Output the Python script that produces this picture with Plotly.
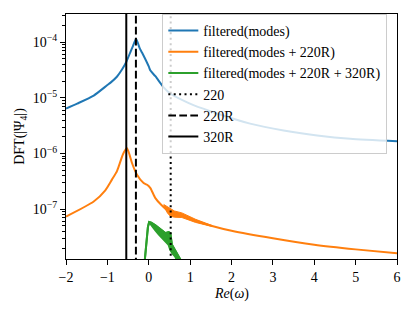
import plotly.graph_objects as go

# ---------------- data ----------------
blue_x = [-2.0, -1.73, -1.33, -1.0, -0.93, -0.77, -0.647, -0.54, -0.446, -0.38, -0.34, -0.31,
          -0.27, -0.22, -0.16, 0.0, 0.04, 0.16, 0.36, 0.52, 0.84, 1.08, 1.65, 2.45,
          3.26, 4.07, 4.87, 6.0]
blue_y = [6.45e-6, 7.9e-6, 1.1e-5, 1.7e-5, 1.86e-5, 2.4e-5, 3.24e-5, 4.47e-5, 6.6e-5, 8.6e-5, 1.02e-4, 1.15e-4,
          1.0e-4, 7.85e-5, 6.46e-5, 3.67e-5, 3.1e-5, 2.45e-5, 1.55e-5, 1.2e-5, 8.9e-6, 7.4e-6, 5.25e-6, 3.45e-6,
          2.6e-6, 2.12e-6, 1.84e-6, 1.66e-6]

orange_x = [-2.0, -1.33, -1.05, -0.89, -0.77, -0.73, -0.62, -0.53, -0.46, -0.405,
            -0.284, -0.125, -0.04, 0.04, 0.16, 0.30, 0.52, 0.80, 1.13, 1.53,
            2.0, 3.0, 4.0, 5.0, 6.0]
orange_y = [7.4e-8, 1.38e-7, 2.19e-7, 3.4e-7, 4.8e-7, 5.75e-7, 9.8e-7, 1.26e-6, 9.3e-7, 6.76e-7,
            4.17e-7, 2.95e-7, 2.75e-7, 2.40e-7, 1.58e-7, 1.20e-7, 8.7e-8, 7.8e-8, 6.2e-8, 5.0e-8,
            4.1e-8, 3.0e-8, 2.3e-8, 1.9e-8, 1.62e-8]

# noisy band of the orange curve
orange_band_x = [0.36, 0.45, 0.52, 0.62, 0.80, 1.13, 1.53]
orange_band_hi = [1.22e-7, 1.11e-7, 1.04e-7, 9.3e-8, 8.6e-8, 6.6e-8, 5.1e-8]
orange_band_lo = [1.17e-7, 8.6e-8, 7.5e-8, 7.2e-8, 7.1e-8, 5.8e-8, 4.9e-8]

# green curve: upper and lower envelopes of its noisy band
green_hi_x = [-0.10, -0.06, -0.02, 0.01, 0.06, 0.16, 0.24, 0.32, 0.40, 0.48,
              0.52, 0.56, 0.62, 0.68, 0.74, 0.80]
green_hi_y = [1.12e-8, 2.82e-8, 4.79e-8, 5.89e-8, 5.75e-8, 5.13e-8, 4.57e-8, 4.07e-8, 3.72e-8, 3.89e-8,
              3.72e-8, 2.29e-8, 1.91e-8, 1.62e-8, 1.41e-8, 1.12e-8]
green_lo_x = [0.01, 0.06, 0.16, 0.24, 0.32, 0.40, 0.48, 0.52, 0.58, 0.64, 0.70]
green_lo_y = [5.89e-8, 5.37e-8, 4.17e-8, 3.55e-8, 3.02e-8, 2.63e-8, 2.29e-8, 1.86e-8, 1.58e-8, 1.41e-8, 1.12e-8]

# mode frequencies (vertical lines)
mode_names = ["220", "220R", "320R"]
mode_freqs = [0.53, -0.31, -0.543]
mode_dashes = ["2px,3.4px", "7.7px,3.3px", "solid"]

series_names = ["filtered(modes)", "filtered(modes + 220R)", "filtered(modes + 220R + 320R)"]
colors = ["#1f77b4", "#ff7f0e", "#2ca02c"]

x_tickvals = [-2, -1, 0, 1, 2, 3, 4, 5, 6]
x_ticktext = ["\u22122", "\u22121", "0", "1", "2", "3", "4", "5", "6"]
y_tickvals = [1e-7, 1e-6, 1e-5, 1e-4]
y_ticktext = ["10<sup>\u22127</sup>", "10<sup>\u22126</sup>", "10<sup>\u22125</sup>", "10<sup>\u22124</sup>"]
x_title = "<i>Re</i>(<i>\u03c9</i>)"
y_title = "DFT(|\u03a8<sub>4</sub>|)"

x_range = [-2, 6]
y_range_log = [-7.894, -3.493]

FONT = "Times New Roman, Liberation Serif, serif"
FS = 14
LW = 2

fig = go.Figure()

fig.add_trace(go.Scatter(x=blue_x, y=blue_y, mode="lines", name=series_names[0],
                         line=dict(color=colors[0], width=LW, shape="spline", smoothing=0.6)))
# orange band
fig.add_trace(go.Scatter(x=orange_band_x + orange_band_x[::-1],
                         y=orange_band_hi + orange_band_lo[::-1],
                         mode="lines", fill="toself", fillcolor=colors[1],
                         line=dict(color=colors[1], width=1), showlegend=False, hoverinfo="skip"))
fig.add_trace(go.Scatter(x=orange_x, y=orange_y, mode="lines", name=series_names[1],
                         line=dict(color=colors[1], width=LW, shape="spline", smoothing=0.6)))
# green band polygon
fig.add_trace(go.Scatter(x=green_hi_x + green_lo_x[::-1],
                         y=green_hi_y + green_lo_y[::-1],
                         mode="lines", fill="toself", fillcolor=colors[2],
                         line=dict(color=colors[2], width=LW), showlegend=False, hoverinfo="skip"))
fig.add_trace(go.Scatter(x=green_hi_x, y=green_hi_y, mode="lines", name=series_names[2],
                         line=dict(color=colors[2], width=LW)))

for name, f, d in zip(mode_names, mode_freqs, mode_dashes):
    fig.add_trace(go.Scatter(x=[f, f], y=[1e-9, 1e-2], mode="lines", name=name,
                             line=dict(color="black", width=LW, dash=d)))

minor_vals = [k * 10.0 ** e for e in range(-9, -2) for k in range(2, 10)]

axis_common = dict(showline=True, mirror=True, linecolor="black", linewidth=1,
                   ticks="outside", ticklen=5, tickwidth=1, tickcolor="black",
                   showgrid=False, zeroline=False, automargin=False,
                   tickfont=dict(family=FONT, size=FS, color="black"))

fig.update_xaxes(range=x_range, tickvals=x_tickvals, ticktext=x_ticktext, **axis_common)
fig.update_yaxes(type="log", range=y_range_log, tickvals=y_tickvals, ticktext=y_ticktext,
                 minor=dict(tickvals=minor_vals, ticks="outside", ticklen=3, tickwidth=0.8,
                            tickcolor="black", showgrid=False),
                 title=dict(text=y_title, font=dict(family=FONT, size=FS, color="black"),
                            standoff=4),
                 **axis_common)

fig.add_annotation(text=x_title, xref="paper", yref="paper", x=0.5, y=-0.143,
                   xanchor="center", yanchor="middle", showarrow=False,
                   font=dict(family=FONT, size=FS, color="black"))

# the page has an 8 px body margin, so the figure is 8 px smaller on each side
fig.update_layout(
    width=407, height=303,
    margin=dict(l=58, r=18, t=6, b=52),
    paper_bgcolor="white", plot_bgcolor="white",
    font=dict(family=FONT, size=FS, color="black"),
    legend=dict(x=0.291, y=1.0, xanchor="left", yanchor="top",
                bgcolor="rgba(255,255,255,0.8)", bordercolor="#cccccc", borderwidth=1,
                font=dict(family=FONT, size=FS, color="black")),
    showlegend=True,
)

fig.write_html("out.html")
